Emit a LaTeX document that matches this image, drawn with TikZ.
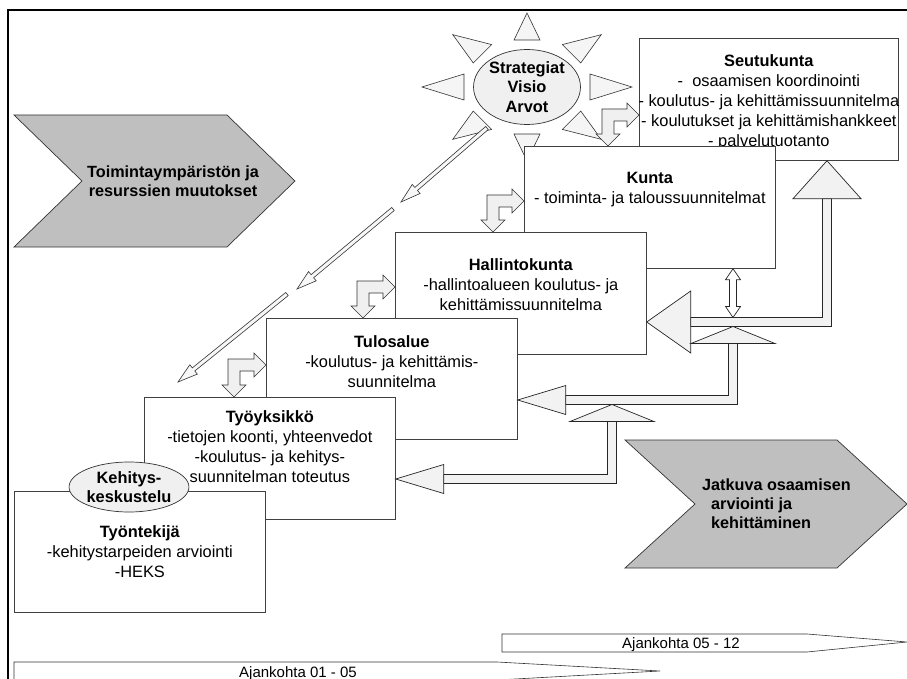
\documentclass[tikz,border=0pt]{standalone}
\usepackage{fontspec}
\setmainfont{Liberation Sans}
\usetikzlibrary{calc, positioning, shapes.geometric}

\tikzset{
  box/.style={draw=black!75, line width=0.7pt, fill=white, anchor=north west,
    inner sep=0pt, minimum width=251pt, minimum height=122pt},
  boxtext/.style={align=center, inner sep=0pt},
  bubble/.style={ellipse, draw=black!80, line width=0.7pt, fill=gray!12,
    align=center, inner sep=0pt, font=\bfseries\fontsize{16.4}{19.5}\selectfont},
  ray/.style={draw=black!80, line width=0.6pt, fill=gray!8},
  slim/.style={draw=black!80, line width=0.6pt, fill=gray!6},
  bent/.style={draw=black!80, line width=0.6pt, fill=gray!12},
  shaft/.style={draw=black!85, line width=1.5pt, fill=gray!10},
  head/.style={draw=black!85, line width=0.7pt, fill=gray!10},
  chevron/.style={draw=black!80, line width=0.7pt, fill=gray!50},
  chevtext/.style={inner sep=0pt, font=\bfseries\fontsize{16.2}{19}\selectfont},
  timeline/.style={draw=black!80, line width=0.6pt, fill=white},
  timetext/.style={inner sep=0pt, anchor=base, font=\fontsize{15}{18}\selectfont}
}

% thin arrow from the sun down the levels
\newcommand{\slimarrow}[2]{%
  \draw[slim] let \p1=($(#2)-(#1)$), \n1={atan2(\y1,\x1)} in
    ($(#1)+(\n1+90:2pt)$) -- ($(#2)+(\n1:-20pt)+(\n1+90:2pt)$)
    -- ($(#2)+(\n1:-20pt)+(\n1+90:6pt)$) -- (#2)
    -- ($(#2)+(\n1:-20pt)+(\n1-90:6pt)$) -- ($(#2)+(\n1:-20pt)+(\n1-90:2pt)$)
    -- ($(#1)+(\n1-90:2pt)$) -- cycle;}

% L-shaped arrow: #1 right tip, #2 down tip
\newcommand{\bentarrow}[2]{%
  \draw[bent] let \p1=(#1), \p2=(#2) in
    (\x2-6pt,\y1+6pt) -- (\x1-12pt,\y1+6pt) -- (\x1-12pt,\y1+12pt) -- (#1)
    -- (\x1-12pt,\y1-12pt) -- (\x1-12pt,\y1-6pt) -- (\x2+6pt,\y1-6pt)
    -- (\x2+6pt,\y2+12pt) -- (\x2+12pt,\y2+12pt) -- (#2)
    -- (\x2-12pt,\y2+12pt) -- (\x2-6pt,\y2+12pt) -- cycle;}

% feedback arrow: #1 left tip, #2 corner, #3 up tip, #4/#5 left head, #6/#7 up head
\newcommand{\elbow}[7]{%
  \draw[shaft] let \p1=(#1), \p2=(#2), \p3=(#3) in
    (\x1+#4pt,\y2+4.5pt) -- (\x2-4.5pt,\y2+4.5pt) -- (\x2-4.5pt,\y3-#6pt)
    -- (\x2+4.5pt,\y3-#6pt) -- (\x2+4.5pt,\y2-4.5pt) -- (\x1+#4pt,\y2-4.5pt) -- cycle;
  \draw[head] let \p1=(#1), \p3=(#3) in
    (#1) -- (\x1+#4pt,\y1+#5pt) -- (\x1+#4pt,\y1-#5pt) -- cycle
    (#3) -- (\x3-#7pt,\y3-#6pt) -- (\x3+#7pt,\y3-#6pt) -- cycle;}

\begin{document}
\begin{tikzpicture}[x=1pt, y=-1pt, font=\fontsize{16.4}{20}\selectfont]
\useasboundingbox (0,0) rectangle (907,679);
\draw[line width=2pt] (8,690) -- (8,10) -- (917,10);

% environment changes / continuous development
\draw[chevron] (14,115) -- (227,115) -- (295,181) -- (227,247) -- (14,247) -- (82,181) -- cycle;
\node[chevtext, align=center] (muutos) at (173,181) {Toimintaympäristön ja\\resurssien muutokset};
\draw[chevron] (625,440) -- (837,440) -- (907,504) -- (837,568) -- (625,568) -- (695,504) -- cycle;
\node[chevtext, align=left, anchor=north west] (jatkuva) at (702,479)
  {Jatkuva osaamisen\\\hspace*{9pt}arviointi ja\\\hspace*{9pt}kehittäminen};

% sun
\node[bubble, minimum width=104pt, minimum height=75pt] (sun) at (527,87) {Strategiat\\Visio\\Arvot};
\foreach \a in {0,45,...,315}
  \draw[ray] ($(sun.center)+(\a:105 and 74)$) -- ($(sun.center)+(\a:63 and 47)+(\a+90:13)$)
    -- ($(sun.center)+(\a:63 and 47)+(\a-90:13)$) -- cycle;

% levels
\node[box, minimum width=259pt] (seutu) at (639,38) {};
\node[boxtext, below=16pt of seutu.north] (seututxt) {\textbf{Seutukunta}\\- \ osaamisen koordinointi\\- koulutus- ja kehittämissuunnitelma\\- koulutukset ja kehittämishankkeet\\- palvelutuotanto};
\node[box] (kunta) at (524,146) {};
\node[boxtext, below=26pt of kunta.north] (kuntatxt) {\textbf{Kunta}\\- toiminta- ja taloussuunnitelmat};
\node[box] (hk) at (395,232) {};
\node[boxtext, below=26pt of hk.north] (hktxt) {\textbf{Hallintokunta}\\-hallintoalueen koulutus- ja\\kehittämissuunnitelma};
\node[box, minimum height=121pt] (tulos) at (266,318) {};
\node[boxtext, below=17pt of tulos.north] (tulostxt) {\textbf{Tulosalue}\\-koulutus- ja kehittämis-\\suunnitelma};
\node[box] (tyo) at (144,397) {};
\node[boxtext, below=13.5pt of tyo.north] (tyotxt) {\textbf{Työyksikkö}\\-tietojen koonti, yhteenvedot\\-koulutus- ja kehitys-\\suunnitelman toteutus};
\node[box, minimum height=121pt] (tek) at (14,491) {};
\node[boxtext, below=34pt of tek.north] (tektxt) {\textbf{Työntekijä}\\-kehitystarpeiden arviointi\\-HEKS};
\node[bubble, minimum width=115pt, minimum height=50pt] (kk) at (129,487) {Kehitys-\\keskustelu};

% steps between levels
\coordinate (r1) at ($(seutu.north west)+(0,77)$);
\coordinate (d1) at ($(kunta.north west)+(84,0)$);
\coordinate (r2) at ($(kunta.north west)+(0,55)$);
\coordinate (d2) at ($(hk.north west)+(98,0)$);
\coordinate (r3) at ($(hk.north west)+(0,55)$);
\coordinate (d3) at ($(tulos.north west)+(97,0)$);
\coordinate (r4) at ($(tulos.north west)+(0,47)$);
\coordinate (d4) at ($(tyo.north west)+(90,0)$);
\foreach \r/\d in {r1/d1, r2/d2, r3/d3, r4/d4} {\bentarrow{\r}{\d}}

% from the sun
\coordinate (s0) at (487,128);
\coordinate (s1) at (401,202);
\coordinate (s2) at (393,209);
\coordinate (s3) at (297,289);
\coordinate (s4) at (287,294);
\coordinate (s5) at (178,382);
\foreach \s/\e in {s0/s1, s2/s3, s4/s5} {\slimarrow{\s}{\e}}

% feedback
\coordinate (acorner) at (827,322);
\coordinate (atip) at (hk.east |- acorner);
\coordinate (aup) at (acorner |- seutu.south);
\coordinate (bcorner) at (733,400);
\coordinate (btip) at (tulos.east |- bcorner);
\coordinate (bup) at ($(bcorner |- acorner)+(0,4.5)$);
\coordinate (ccorner) at (612,479);
\coordinate (ctip) at (tyo.east |- ccorner);
\coordinate (cup) at ($(ccorner |- bcorner)+(0,4.5)$);
\elbow{atip}{acorner}{aup}{44}{31}{38}{34}
\elbow{btip}{bcorner}{bup}{48}{14.5}{17}{42}
\elbow{ctip}{ccorner}{cup}{48}{14.5}{17}{42}
\coordinate (ktop) at (bcorner |- kunta.south);
\coordinate (kbot) at ($(bcorner |- acorner)+(0,-4.5)$);
\draw[head, fill=white] let \p1=(ktop), \p2=(kbot) in
  (ktop) -- (\x1+7.5pt,\y1-11pt) -- (\x1+3.5pt,\y1-11pt) -- (\x2+3.5pt,\y2+11pt)
  -- (\x2+7.5pt,\y2+11pt) -- (kbot) -- (\x2-7.5pt,\y2+11pt) -- (\x2-3.5pt,\y2+11pt)
  -- (\x1-3.5pt,\y1-11pt) -- (\x1-7.5pt,\y1-11pt) -- cycle;

% time line
\draw[timeline] (502,634) -- (807,634) -- (907,642) -- (807,652) -- (502,652) -- cycle;
\node[timetext] (aika2) at (681,648.5) {Ajankohta 05 - 12};
\draw[timeline] (14,662) -- (497,662) -- (660,671) -- (497,680) -- (14,680) -- cycle;
\node[timetext] (aika1) at (298,677) {Ajankohta 01 - 05};
\end{tikzpicture}
\end{document}
